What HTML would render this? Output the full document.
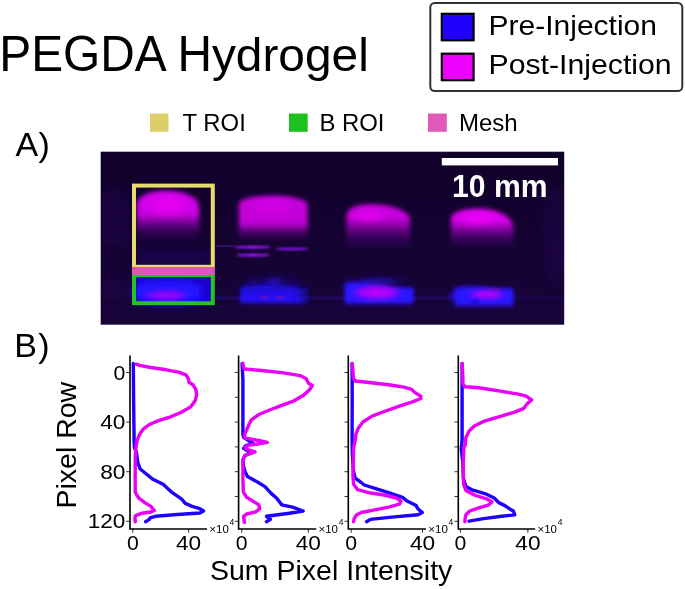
<!DOCTYPE html>
<html><head><meta charset="utf-8"><style>
html,body{margin:0;padding:0;background:#fff;}
svg{display:block;will-change:transform;}
text{font-family:"Liberation Sans",sans-serif;}
</style></head><body>
<svg width="685" height="589" viewBox="0 0 685 589">
<g>
<text transform="translate(-0.7,70.5) scale(1.018,1.075)" font-size="47">PEGDA H</text>
<text transform="translate(211.915,70.5) scale(1.018,1.0)" font-size="47">ydrogel</text>
<rect x="430.3" y="3" width="252" height="88" rx="4.5" ry="4.5" fill="#fff" stroke="#333" stroke-width="2"/>
<rect x="441.8" y="13.8" width="31.8" height="26.5" fill="#2200ff" stroke="#000" stroke-width="2.2"/>
<rect x="441.8" y="53.7" width="31.8" height="26.5" fill="#ee00ff" stroke="#000" stroke-width="2.2"/>
<text x="488.5" y="34.8" font-size="28.3" textLength="168.5" lengthAdjust="spacingAndGlyphs">Pre-Injection</text>
<text x="488.5" y="74.2" font-size="28.3" textLength="183.2" lengthAdjust="spacingAndGlyphs">Post-Injection</text>
<rect x="150" y="113.5" width="18.5" height="18.3" fill="#dccf6a"/>
<text x="182.6" y="131.4" font-size="23.2" textLength="63.2" lengthAdjust="spacingAndGlyphs">T ROI</text>
<rect x="289" y="113.5" width="18.7" height="18.3" fill="#1ec21e"/>
<text x="319.4" y="131.4" font-size="23.2" textLength="65.1" lengthAdjust="spacingAndGlyphs">B ROI</text>
<rect x="428" y="113.5" width="18.8" height="18.3" fill="#e05ab9"/>
<text x="458.9" y="131.4" font-size="23.2" textLength="58.8" lengthAdjust="spacingAndGlyphs">Mesh</text>
<text x="15.6 38.4" y="156.3" font-size="34">A)</text>
<text x="14.3 38.3" y="357.3" font-size="34">B)</text>
<defs>
<linearGradient id="bg" x1="0" y1="0" x2="0" y2="1"><stop offset="0" stop-color="#10002a"/><stop offset="1" stop-color="#180438"/></linearGradient>
<filter id="b6" x="-50%" y="-50%" width="200%" height="200%"><feGaussianBlur stdDeviation="6"/></filter>
<filter id="b4" x="-50%" y="-50%" width="200%" height="200%"><feGaussianBlur stdDeviation="4"/></filter>
<filter id="b2" x="-50%" y="-50%" width="200%" height="200%"><feGaussianBlur stdDeviation="2"/></filter>
<filter id="b1" x="-50%" y="-50%" width="200%" height="200%"><feGaussianBlur stdDeviation="1"/></filter>
<clipPath id="pc"><rect x="100.7" y="151.7" width="463.5" height="173"/></clipPath>
</defs>
<rect x="100.7" y="151.7" width="463.5" height="173" fill="url(#bg)"/>
<g clip-path="url(#pc)">
<defs><linearGradient id="mg0" x1="0" y1="0" x2="0" y2="1">
<stop offset="0" stop-color="rgb(214,0,236)" stop-opacity="1"/>
<stop offset="0.45" stop-color="rgb(214,0,236)" stop-opacity="0.95"/>
<stop offset="0.623" stop-color="rgb(181,0,212)" stop-opacity="0.62"/>
<stop offset="0.780" stop-color="rgb(128,0,177)" stop-opacity="0.33"/>
<stop offset="0.961" stop-color="rgb(85,0,141)" stop-opacity="0.08"/>
<stop offset="1" stop-color="rgb(85,0,141)" stop-opacity="0"/>
</linearGradient><linearGradient id="mg1" x1="0" y1="0" x2="0" y2="1">
<stop offset="0" stop-color="rgb(200,0,222)" stop-opacity="1"/>
<stop offset="0.6" stop-color="rgb(200,0,222)" stop-opacity="0.95"/>
<stop offset="0.726" stop-color="rgb(170,0,199)" stop-opacity="0.62"/>
<stop offset="0.840" stop-color="rgb(120,0,166)" stop-opacity="0.33"/>
<stop offset="0.971" stop-color="rgb(80,0,133)" stop-opacity="0.08"/>
<stop offset="1" stop-color="rgb(80,0,133)" stop-opacity="0"/>
</linearGradient><linearGradient id="mg2" x1="0" y1="0" x2="0" y2="1">
<stop offset="0" stop-color="rgb(206,0,226)" stop-opacity="1"/>
<stop offset="0.3" stop-color="rgb(206,0,226)" stop-opacity="0.95"/>
<stop offset="0.520" stop-color="rgb(175,0,203)" stop-opacity="0.62"/>
<stop offset="0.720" stop-color="rgb(123,0,169)" stop-opacity="0.33"/>
<stop offset="0.950" stop-color="rgb(82,0,135)" stop-opacity="0.08"/>
<stop offset="1" stop-color="rgb(82,0,135)" stop-opacity="0"/>
</linearGradient><linearGradient id="mg3" x1="0" y1="0" x2="0" y2="1">
<stop offset="0" stop-color="rgb(226,0,244)" stop-opacity="1"/>
<stop offset="0.3" stop-color="rgb(226,0,244)" stop-opacity="0.95"/>
<stop offset="0.520" stop-color="rgb(192,0,219)" stop-opacity="0.62"/>
<stop offset="0.720" stop-color="rgb(135,0,183)" stop-opacity="0.33"/>
<stop offset="0.950" stop-color="rgb(90,0,146)" stop-opacity="0.08"/>
<stop offset="1" stop-color="rgb(90,0,146)" stop-opacity="0"/>
</linearGradient>
<linearGradient id="bl1" x1="0" y1="0" x2="0" y2="1">
<stop offset="0" stop-color="#1a00c8" stop-opacity="0.8"/>
<stop offset="0.4" stop-color="#1e00ee" stop-opacity="0.95"/>
<stop offset="1" stop-color="#2010ff" stop-opacity="1"/>
</linearGradient>
<linearGradient id="bl" x1="0" y1="0" x2="0" y2="1">
<stop offset="0" stop-color="#1800a0" stop-opacity="0.25"/>
<stop offset="0.3" stop-color="#1e00d0" stop-opacity="0.7"/>
<stop offset="0.75" stop-color="#2810ff" stop-opacity="1"/>
<stop offset="1" stop-color="#2810ff" stop-opacity="1"/>
</linearGradient>
<radialGradient id="hot" cx="0.5" cy="0.5" r="0.5">
<stop offset="0" stop-color="#d000ff" stop-opacity="0.95"/>
<stop offset="0.6" stop-color="#b000ff" stop-opacity="0.6"/>
<stop offset="1" stop-color="#9000ff" stop-opacity="0"/>
</radialGradient>
<radialGradient id="mhot" cx="0.5" cy="0.5" r="0.5">
<stop offset="0" stop-color="#ff00ff" stop-opacity="0.55"/>
<stop offset="1" stop-color="#ff00ff" stop-opacity="0"/>
</radialGradient>
</defs>
<path d="M136.5,242 L136.5,204.8 C136.5,196.4 149.775,190.8 166,190.8 C184.15,190.8 199,197.20000000000002 199,206.8 L199,242 Z" fill="url(#mg0)" filter="url(#b2)"/>
<ellipse cx="168" cy="206" rx="22" ry="14" fill="url(#mhot)" opacity="1.0"/>
<path d="M238.8,242 L238.8,204.4 C238.8,199.0 253.74,195.4 272,195.4 C291.58000000000004,195.4 307.6,199.4 307.6,205.4 L307.6,242 Z" fill="url(#mg1)" filter="url(#b2)"/>
<ellipse cx="272" cy="207" rx="24" ry="11" fill="url(#mhot)" opacity="0.6"/>
<path d="M346.5,251 L346.5,215.2 C346.5,208.6 357.075,204.2 370,204.2 C392.0,204.2 410,210.6 410,220.2 L410,251 Z" fill="url(#mg2)" filter="url(#b2)"/>
<ellipse cx="370" cy="216.2" rx="21.59" ry="9" fill="url(#mhot)" opacity="1.0"/>
<path d="M451,250 L451,218.5 C451,212.5 463.15,208.5 478,208.5 C497.525,208.5 513.5,216.5 513.5,228.5 L513.5,250 Z" fill="url(#mg3)" filter="url(#b2)"/>
<ellipse cx="478" cy="220.5" rx="21.25" ry="9" fill="url(#mhot)" opacity="1.0"/>
<rect x="138" y="250" width="72" height="14" fill="#2a10c0" opacity="0.18" filter="url(#b4)"/>
<rect x="102" y="190" width="26" height="55" fill="#3a1080" opacity="0.2" filter="url(#b6)"/>
<rect x="102" y="280" width="26" height="20" fill="#3a1080" opacity="0.2" filter="url(#b6)"/>
<ellipse cx="556" cy="235" rx="14" ry="50" fill="#3a1080" opacity="0.18" filter="url(#b6)"/>
<rect x="216" y="297.3" width="240" height="1.6" fill="#3420d0" opacity="0.55" filter="url(#b1)"/>
<rect x="456" y="297.3" width="108" height="1.6" fill="#3420d0" opacity="0.3" filter="url(#b1)"/>
<rect x="100" y="306.3" width="464" height="1.4" fill="#2a14a0" opacity="0.25" filter="url(#b1)"/>
<defs>
<radialGradient id="hp" cx="0.5" cy="0.5" r="0.5">
<stop offset="0" stop-color="#cc00f4" stop-opacity="1"/>
<stop offset="0.6" stop-color="#b400f8" stop-opacity="0.85"/>
<stop offset="1" stop-color="#8000ff" stop-opacity="0"/>
</radialGradient>
<linearGradient id="bv" x1="0" y1="0" x2="0" y2="1">
<stop offset="0" stop-color="#1c06d0" stop-opacity="0.75"/>
<stop offset="0.5" stop-color="#2410f8" stop-opacity="0.95"/>
<stop offset="1" stop-color="#2812ff" stop-opacity="1"/>
</linearGradient>
<radialGradient id="hb" cx="0.5" cy="0.5" r="0.5">
<stop offset="0" stop-color="#2a14ff" stop-opacity="0.7"/>
<stop offset="1" stop-color="#2a14ff" stop-opacity="0"/>
</radialGradient>
</defs>
<rect x="136" y="277" width="76" height="25" fill="#1a06c8" filter="url(#b1)"/>
<ellipse cx="168" cy="292" rx="36" ry="12" fill="#2412ff" filter="url(#b4)"/>
<rect x="140" y="284" width="56" height="16" fill="#2412ff" filter="url(#b4)"/>
<ellipse cx="166" cy="295.5" rx="26" ry="6.5" fill="url(#hp)" opacity="0.75" filter="url(#b2)"/>
<ellipse cx="272" cy="284" rx="34" ry="10" fill="url(#hb)" filter="url(#b2)"/>
<path d="M240,303 L240,288 Q246,283 256,286 Q266,281 278,287 Q290,282 300,288 L303,303 Z" fill="url(#bv)" filter="url(#b2)"/>
<path d="M296,303 L296,290 L308,287 L308,303 Z" fill="#1a08c0" opacity="0.7" filter="url(#b2)"/>
<ellipse cx="264.5" cy="297.2" rx="5" ry="1.6" fill="#a01090" opacity="0.45" filter="url(#b1)"/>
<ellipse cx="280" cy="297.2" rx="5" ry="1.6" fill="#a01090" opacity="0.45" filter="url(#b1)"/>
<ellipse cx="262" cy="280" rx="8" ry="3" fill="#0a0030" opacity="0.6" filter="url(#b2)"/>
<ellipse cx="288" cy="282" rx="7" ry="3" fill="#0a0030" opacity="0.6" filter="url(#b2)"/>
<ellipse cx="379" cy="281" rx="33" ry="5" fill="url(#hb)" filter="url(#b2)"/>
<path d="M344.5,300.5 L344.5,284 Q345,282 348,282 Q362,281 375,284 L395,287 L411,287.5 Q414,287.5 414,290 L414,300.5 Q414,304 410,304 L348,304 Q344.5,304 344.5,300.5 Z" fill="#2a14ff" filter="url(#b2)"/>
<ellipse cx="377" cy="292.5" rx="28" ry="8.5" fill="url(#hp)" filter="url(#b2)"/>
<ellipse cx="454" cy="296" rx="6" ry="5" fill="#2a14ff" opacity="0.5" filter="url(#b2)"/>
<path d="M454.5,303 L454.5,288.5 Q456,286.8 460,286.8 Q478,285.5 495,288 L511,288 Q513.6,288 513.6,291 L513.6,303 Q513.6,305.9 510,305.9 L458,305.9 Q454.5,305.9 454.5,303 Z" fill="#2a14ff" filter="url(#b2)"/>
<ellipse cx="487" cy="294.5" rx="21" ry="5.5" fill="url(#hp)" filter="url(#b2)"/>
<ellipse cx="495" cy="289" rx="5" ry="1.3" fill="#c01080" opacity="0.4" filter="url(#b1)"/>
<ellipse cx="475" cy="302" rx="4" ry="1.5" fill="#1000a0" opacity="0.6" filter="url(#b1)"/>
<path d="M215.5,245.5 L235,246.3" stroke="#7020d0" stroke-width="1.8" opacity="0.7" filter="url(#b1)"/>
<ellipse cx="252.5" cy="247.2" rx="18" ry="1.6" fill="#9018e8" filter="url(#b1)"/>
<ellipse cx="292" cy="249" rx="17" ry="1.5" fill="#8018e0" filter="url(#b1)"/>
<ellipse cx="253" cy="255.1" rx="17" ry="1.7" fill="#9018e8" filter="url(#b1)"/>
</g>
<rect x="134" y="185.6" width="78.8" height="81.2" fill="none" stroke="#e6dc6e" stroke-width="4"/>
<rect x="134" y="275.2" width="78.8" height="28" fill="none" stroke="#22c422" stroke-width="4"/>
<rect x="132" y="267" width="82.8" height="8" fill="#e055b9"/>
<rect x="441.8" y="158" width="116.2" height="7.4" fill="#fff"/>
<text x="452" y="197" font-size="31" font-weight="bold" fill="#fff" textLength="95.5" lengthAdjust="spacingAndGlyphs">10 mm</text>
<path d="M133.3,363.4 L133.6,400.0 L134.1,440.0 L134.4,447.6 L136.4,452.2 L137.9,462.9 L140.2,469.0 L144.8,472.8 L152.4,478.9 L163.1,484.3 L172.3,492.7 L181.4,498.8 L185.3,503.4 L192.1,506.4 L199.8,508.7 L203.6,511.0 L199.8,513.0 L173.8,514.8 L155.5,516.3 L150.1,517.9 L149.4,519.4 L145.6,521.7" fill="none" stroke="#1e00ff" stroke-width="3.4" stroke-linejoin="round" stroke-linecap="round"/>
<path d="M136.4,364.2 L139.5,365.4 L150.9,367.5 L166.2,369.8 L178.4,372.1 L186.0,374.8 L188.3,378.7 L189.1,382.5 L192.9,384.8 L195.9,389.4 L196.7,394.7 L195.2,400.8 L190.6,406.9 L181.4,412.3 L170.7,416.8 L158.5,420.6 L149.4,424.5 L143.3,429.0 L139.5,434.4 L137.2,440.5 L135.9,447.6 L135.3,455.3 L135.2,470.5 L135.2,485.8 L135.3,492.7 L138.7,498.0 L144.8,502.6 L150.9,506.4 L154.3,510.5 L150.9,512.0 L141.7,513.3 L135.6,515.6 L134.9,517.9 L135.3,521.7" fill="none" stroke="#ea00f8" stroke-width="3.4" stroke-linejoin="round" stroke-linecap="round"/>
<path d="M130.0,355.5 L130.0,529.0 L207.0,529.0" fill="none" stroke="#000" stroke-width="1.6"/>
<line x1="126.2" y1="372.5" x2="130.0" y2="372.5" stroke="#000" stroke-width="0.8"/>
<line x1="126.2" y1="422.1" x2="130.0" y2="422.1" stroke="#000" stroke-width="0.8"/>
<line x1="126.2" y1="471.7" x2="130.0" y2="471.7" stroke="#000" stroke-width="0.8"/>
<line x1="126.2" y1="521.3" x2="130.0" y2="521.3" stroke="#000" stroke-width="0.8"/>
<line x1="132.8" y1="529.0" x2="132.8" y2="532.8" stroke="#000" stroke-width="0.8"/>
<line x1="188.6" y1="529.0" x2="188.6" y2="532.8" stroke="#000" stroke-width="0.8"/>
<text x="126.9" y="550" font-size="20" textLength="11.8" lengthAdjust="spacingAndGlyphs">0</text>
<text x="176.0" y="550" font-size="20" textLength="25.2" lengthAdjust="spacingAndGlyphs">40</text>
<text x="209.3" y="532.9" font-size="11.5">×10</text>
<text x="229.5" y="525.4" font-size="8.5">4</text>
<path d="M242.1,363.4 L242.9,380.0 L242.9,434.4 L243.6,437.4 L249.7,441.3 L252.8,443.0 L245.2,446.1 L243.6,448.4 L247.5,450.7 L251.3,453.0 L245.2,455.3 L242.9,459.8 L243.6,466.7 L245.2,472.1 L247.5,476.6 L257.4,482.0 L265.0,486.6 L271.1,493.4 L276.5,498.0 L281.8,504.9 L292.5,507.2 L303.2,511.0 L289.4,513.3 L266.5,516.3 L270.4,519.4 L266.5,521.7" fill="none" stroke="#1e00ff" stroke-width="3.4" stroke-linejoin="round" stroke-linecap="round"/>
<path d="M242.9,363.4 L243.3,366.5 L244.4,369.0 L258.9,370.3 L281.8,372.6 L300.1,375.6 L306.2,378.7 L308.5,383.2 L312.3,385.5 L309.3,390.1 L303.2,395.5 L294.0,400.8 L281.8,405.4 L269.6,410.0 L258.9,414.5 L251.3,419.9 L249.0,424.5 L246.7,429.8 L245.2,432.9 L244.4,435.9 L245.2,438.2 L258.9,440.5 L267.3,442.3 L258.9,443.8 L248.2,445.3 L245.2,447.6 L248.2,449.9 L255.1,451.9 L249.7,453.7 L245.2,455.3 L243.6,458.3 L242.9,462.9 L242.9,478.2 L243.3,491.9 L246.7,497.3 L252.8,501.1 L258.9,504.9 L259.7,508.7 L255.8,511.8 L246.7,514.0 L243.6,516.3 L243.9,519.4 L244.4,522.4" fill="none" stroke="#ea00f8" stroke-width="3.4" stroke-linejoin="round" stroke-linecap="round"/>
<path d="M238.6,355.5 L238.6,529.0 L316.2,529.0" fill="none" stroke="#000" stroke-width="1.6"/>
<line x1="234.79999999999998" y1="372.5" x2="238.6" y2="372.5" stroke="#000" stroke-width="0.8"/>
<line x1="234.79999999999998" y1="397.3" x2="238.6" y2="397.3" stroke="#000" stroke-width="0.8"/>
<line x1="234.79999999999998" y1="422.1" x2="238.6" y2="422.1" stroke="#000" stroke-width="0.8"/>
<line x1="234.79999999999998" y1="446.9" x2="238.6" y2="446.9" stroke="#000" stroke-width="0.8"/>
<line x1="234.79999999999998" y1="471.7" x2="238.6" y2="471.7" stroke="#000" stroke-width="0.8"/>
<line x1="234.79999999999998" y1="496.5" x2="238.6" y2="496.5" stroke="#000" stroke-width="0.8"/>
<line x1="234.79999999999998" y1="521.3" x2="238.6" y2="521.3" stroke="#000" stroke-width="0.8"/>
<line x1="241.7" y1="529.0" x2="241.7" y2="532.8" stroke="#000" stroke-width="0.8"/>
<line x1="308.3" y1="529.0" x2="308.3" y2="532.8" stroke="#000" stroke-width="0.8"/>
<text x="235.79999999999998" y="550" font-size="20" textLength="11.8" lengthAdjust="spacingAndGlyphs">0</text>
<text x="295.7" y="550" font-size="20" textLength="25.2" lengthAdjust="spacingAndGlyphs">40</text>
<text x="318.5" y="532.9" font-size="11.5">×10</text>
<text x="338.7" y="525.4" font-size="8.5">4</text>
<path d="M352.1,363.4 L352.2,400.0 L352.1,440.0 L352.4,455.3 L353.3,470.5 L355.2,478.2 L360.5,482.0 L364.3,485.0 L376.5,488.9 L388.7,492.7 L402.5,497.3 L407.1,501.1 L416.2,505.6 L417.8,508.7 L422.3,512.5 L417.8,514.8 L391.8,517.1 L370.4,519.4 L366.6,521.7" fill="none" stroke="#1e00ff" stroke-width="3.4" stroke-linejoin="round" stroke-linecap="round"/>
<path d="M352.1,363.4 L352.9,370.3 L353.3,377.9 L355.2,381.0 L368.9,382.5 L388.7,384.8 L404.0,387.1 L411.6,389.4 L414.7,392.4 L420.8,396.2 L420.8,398.5 L413.2,401.6 L399.4,406.1 L384.2,411.5 L372.0,416.1 L362.8,422.2 L358.2,428.3 L355.9,434.4 L355.2,440.5 L353.6,447.6 L353.3,462.9 L352.9,475.1 L353.6,484.3 L357.5,489.6 L368.9,492.7 L384.2,495.0 L396.4,498.0 L401.0,501.1 L399.4,504.1 L388.7,507.2 L373.5,510.2 L361.3,512.5 L356.7,514.8 L354.4,517.9 L353.6,521.7" fill="none" stroke="#ea00f8" stroke-width="3.4" stroke-linejoin="round" stroke-linecap="round"/>
<path d="M348.3,355.5 L348.3,529.0 L426.0,529.0" fill="none" stroke="#000" stroke-width="1.6"/>
<line x1="344.5" y1="372.5" x2="348.3" y2="372.5" stroke="#000" stroke-width="0.8"/>
<line x1="344.5" y1="397.3" x2="348.3" y2="397.3" stroke="#000" stroke-width="0.8"/>
<line x1="344.5" y1="422.1" x2="348.3" y2="422.1" stroke="#000" stroke-width="0.8"/>
<line x1="344.5" y1="446.9" x2="348.3" y2="446.9" stroke="#000" stroke-width="0.8"/>
<line x1="344.5" y1="471.7" x2="348.3" y2="471.7" stroke="#000" stroke-width="0.8"/>
<line x1="344.5" y1="496.5" x2="348.3" y2="496.5" stroke="#000" stroke-width="0.8"/>
<line x1="344.5" y1="521.3" x2="348.3" y2="521.3" stroke="#000" stroke-width="0.8"/>
<line x1="351.2" y1="529.0" x2="351.2" y2="532.8" stroke="#000" stroke-width="0.8"/>
<line x1="422.5" y1="529.0" x2="422.5" y2="532.8" stroke="#000" stroke-width="0.8"/>
<text x="345.3" y="550" font-size="20" textLength="11.8" lengthAdjust="spacingAndGlyphs">0</text>
<text x="409.9" y="550" font-size="20" textLength="25.2" lengthAdjust="spacingAndGlyphs">40</text>
<text x="428.3" y="532.9" font-size="11.5">×10</text>
<text x="448.5" y="525.4" font-size="8.5">4</text>
<path d="M462.1,363.4 L462.1,400.0 L462.1,440.0 L461.3,449.2 L462.9,462.9 L463.3,478.2 L465.9,486.6 L471.3,489.6 L486.5,494.2 L494.2,498.0 L498.7,502.6 L504.9,505.6 L509.4,508.7 L513.3,511.0 L514.8,514.8 L501.8,516.3 L483.5,518.6 L469.0,521.2" fill="none" stroke="#1e00ff" stroke-width="3.4" stroke-linejoin="round" stroke-linecap="round"/>
<path d="M462.1,363.4 L462.9,377.9 L462.9,384.0 L465.2,386.8 L478.9,387.8 L498.7,390.9 L517.1,393.9 L526.2,396.2 L531.6,400.0 L527.0,403.9 L523.9,408.4 L514.0,412.3 L498.7,416.8 L483.5,421.4 L474.3,426.0 L469.0,431.3 L465.9,437.4 L465.2,445.0 L463.9,447.6 L463.3,462.9 L463.6,484.3 L465.9,490.4 L474.3,495.0 L486.5,498.8 L491.9,501.8 L488.8,504.9 L478.9,507.9 L469.7,511.0 L465.9,514.8 L465.2,517.9 L464.9,521.7" fill="none" stroke="#ea00f8" stroke-width="3.4" stroke-linejoin="round" stroke-linecap="round"/>
<path d="M458.3,355.5 L458.3,529.0 L535.2,529.0" fill="none" stroke="#000" stroke-width="1.6"/>
<line x1="454.5" y1="372.5" x2="458.3" y2="372.5" stroke="#000" stroke-width="0.8"/>
<line x1="454.5" y1="397.3" x2="458.3" y2="397.3" stroke="#000" stroke-width="0.8"/>
<line x1="454.5" y1="422.1" x2="458.3" y2="422.1" stroke="#000" stroke-width="0.8"/>
<line x1="454.5" y1="446.9" x2="458.3" y2="446.9" stroke="#000" stroke-width="0.8"/>
<line x1="454.5" y1="471.7" x2="458.3" y2="471.7" stroke="#000" stroke-width="0.8"/>
<line x1="454.5" y1="496.5" x2="458.3" y2="496.5" stroke="#000" stroke-width="0.8"/>
<line x1="454.5" y1="521.3" x2="458.3" y2="521.3" stroke="#000" stroke-width="0.8"/>
<line x1="460.4" y1="529.0" x2="460.4" y2="532.8" stroke="#000" stroke-width="0.8"/>
<line x1="527.9" y1="529.0" x2="527.9" y2="532.8" stroke="#000" stroke-width="0.8"/>
<text x="454.5" y="550" font-size="20" textLength="11.8" lengthAdjust="spacingAndGlyphs">0</text>
<text x="515.3" y="550" font-size="20" textLength="25.2" lengthAdjust="spacingAndGlyphs">40</text>
<text x="537.5" y="532.9" font-size="11.5">×10</text>
<text x="557.7" y="525.4" font-size="8.5">4</text>
<text x="113.60000000000001" y="379.6" font-size="20" textLength="11.8" lengthAdjust="spacingAndGlyphs">0</text>
<text x="100.2" y="429.2" font-size="20" textLength="25.2" lengthAdjust="spacingAndGlyphs">40</text>
<text x="100.2" y="478.8" font-size="20" textLength="25.2" lengthAdjust="spacingAndGlyphs">80</text>
<text x="87.80000000000001" y="528.4" font-size="20" textLength="37.6" lengthAdjust="spacingAndGlyphs">120</text>
<text transform="translate(76.3,508.5) rotate(-90)" font-size="28.5">Pixel Row</text>
<text x="210" y="580" font-size="28.5">Sum Pixel Intensity</text>
</g>
</svg>
</body></html>
